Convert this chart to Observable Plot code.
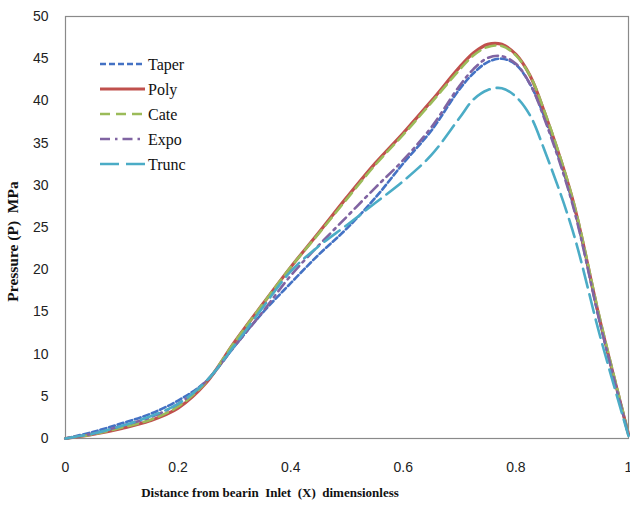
<!DOCTYPE html>
<html><head><meta charset="utf-8">
<script src="https://cdn.jsdelivr.net/npm/d3@7"></script>
<script src="https://cdn.jsdelivr.net/npm/@observablehq/plot@0.6"></script>
<style>body{margin:0;background:#fff} #chart{width:630px;height:512px}</style>
</head><body><div id="chart"></div>
<script>
const xs    = [0,0.05,0.1,0.15,0.2,0.25,0.3,0.35,0.4,0.45,0.5,0.55,0.6,0.65,0.7,0.725,0.75,0.775,0.8,0.825,0.85,0.9,0.95,1];
const taper = [0,0.8,1.8,2.9,4.5,6.8,10.9,14.9,18.4,21.8,24.9,28.5,32.6,36.5,41.4,43.3,44.6,45.0,44.3,42.0,38.2,28.1,13.6,0.5];
const poly  = [0,0.5,1.2,2.1,3.6,6.6,11.4,15.9,20.3,24.4,28.6,32.6,36.2,40.0,44.0,45.7,46.7,46.7,45.5,43.0,38.8,28.5,13.8,0.5];
const cate  = [0,0.5,1.3,2.2,3.8,6.7,11.4,15.9,20.3,24.3,28.4,32.4,36.0,39.8,43.7,45.4,46.4,46.5,45.4,43.0,38.9,28.6,14.0,0.6];
const expo  = [0,0.6,1.5,2.5,4.1,6.8,10.9,15.0,19.3,22.9,26.3,29.7,33.0,36.9,41.8,43.8,45.1,45.3,44.4,42.0,38.0,27.9,13.5,0.4];
const trunc = [0,0.6,1.5,2.6,4.1,6.8,11.0,15.5,19.8,22.8,25.3,27.9,30.5,33.6,38.0,40.2,41.3,41.5,40.5,38.3,34.3,24.8,12.0,0.3];
const seriesNames = ["Taper","Poly","Cate","Expo","Trunc"];
const seriesValues = [taper, poly, cate, expo, trunc];
const xTicks = [0,0.2,0.4,0.6,0.8,1];
const yTicks = [0,5,10,15,20,25,30,35,40,45,50];
const xTitle = "Distance from bearin  Inlet  (X)  dimensionless";
const yTitle = "Pressure (P)  MPa";

const styles = {
  Taper: {stroke:"#4472C4", strokeWidth:2.6, dash:"6,3"},
  Poly:  {stroke:"#C0504D", strokeWidth:3.2, dash:null},
  Cate:  {stroke:"#9BBB59", strokeWidth:2.6, dash:"10,6"},
  Expo:  {stroke:"#8064A2", strokeWidth:2.6, dash:"10,5,2.5,5"},
  Trunc: {stroke:"#4BACC6", strokeWidth:2.6, dash:"19,7"}
};

const data = seriesNames.flatMap((n, k) => xs.map((x, i) => ({x, y: seriesValues[k][i], name: n})));

const plot = Plot.plot({
  width: 630, height: 512,
  marginLeft: 65, marginRight: 2, marginTop: 16, marginBottom: 74,
  style: {background: "#fff", fontFamily: "Liberation Sans, Arial, sans-serif", fontSize: "14px", color: "#222"},
  x: {domain: [0, 1]},
  y: {domain: [0, 50]},
  marks: [
    Plot.frame({stroke: "#8a8a8a", strokeWidth: 1.2}),
    Plot.axisX({ticks: xTicks, tickSize: 0, tickPadding: 24, tickFormat: d => String(d), label: null, fontSize: 14}),
    Plot.axisY({ticks: yTicks, tickSize: 0, tickPadding: 17, label: null, fontSize: 14}),
    ...seriesNames.map(n => Plot.line(data.filter(d => d.name === n), {
      x: "x", y: "y", stroke: styles[n].stroke, strokeWidth: styles[n].strokeWidth,
      strokeDasharray: styles[n].dash, curve: "catmull-rom"
    })),
    Plot.text([xTitle], {frameAnchor: "bottom", textAnchor: "middle", dx: -77, dy: 58, fontFamily: "Liberation Serif, serif", fontWeight: "bold", fontSize: 13, fill: "#111"}),
    Plot.text([yTitle], {frameAnchor: "left", textAnchor: "middle", rotate: -90, dx: -52, dy: 14, fontFamily: "Liberation Serif, serif", fontWeight: "bold", fontSize: 15.5, fill: "#111"})
  ]
});
document.getElementById("chart").appendChild(plot);

// legend inside plot area (top-left)
const svg = d3.select(plot);
const lg = svg.append("g").attr("font-family", "Liberation Serif, serif").attr("font-size", 16).attr("text-anchor", "start");
seriesNames.forEach((n, i) => {
  const y = 64 + i * 25;
  lg.append("line").attr("x1", 100).attr("x2", 145).attr("y1", y).attr("y2", y)
    .attr("stroke", styles[n].stroke).attr("stroke-width", styles[n].strokeWidth)
    .attr("stroke-dasharray", styles[n].dash);
  lg.append("text").attr("x", 148).attr("y", y).attr("dy", "0.35em").attr("fill", "#111").text(n);
});
</script>
</body></html>
